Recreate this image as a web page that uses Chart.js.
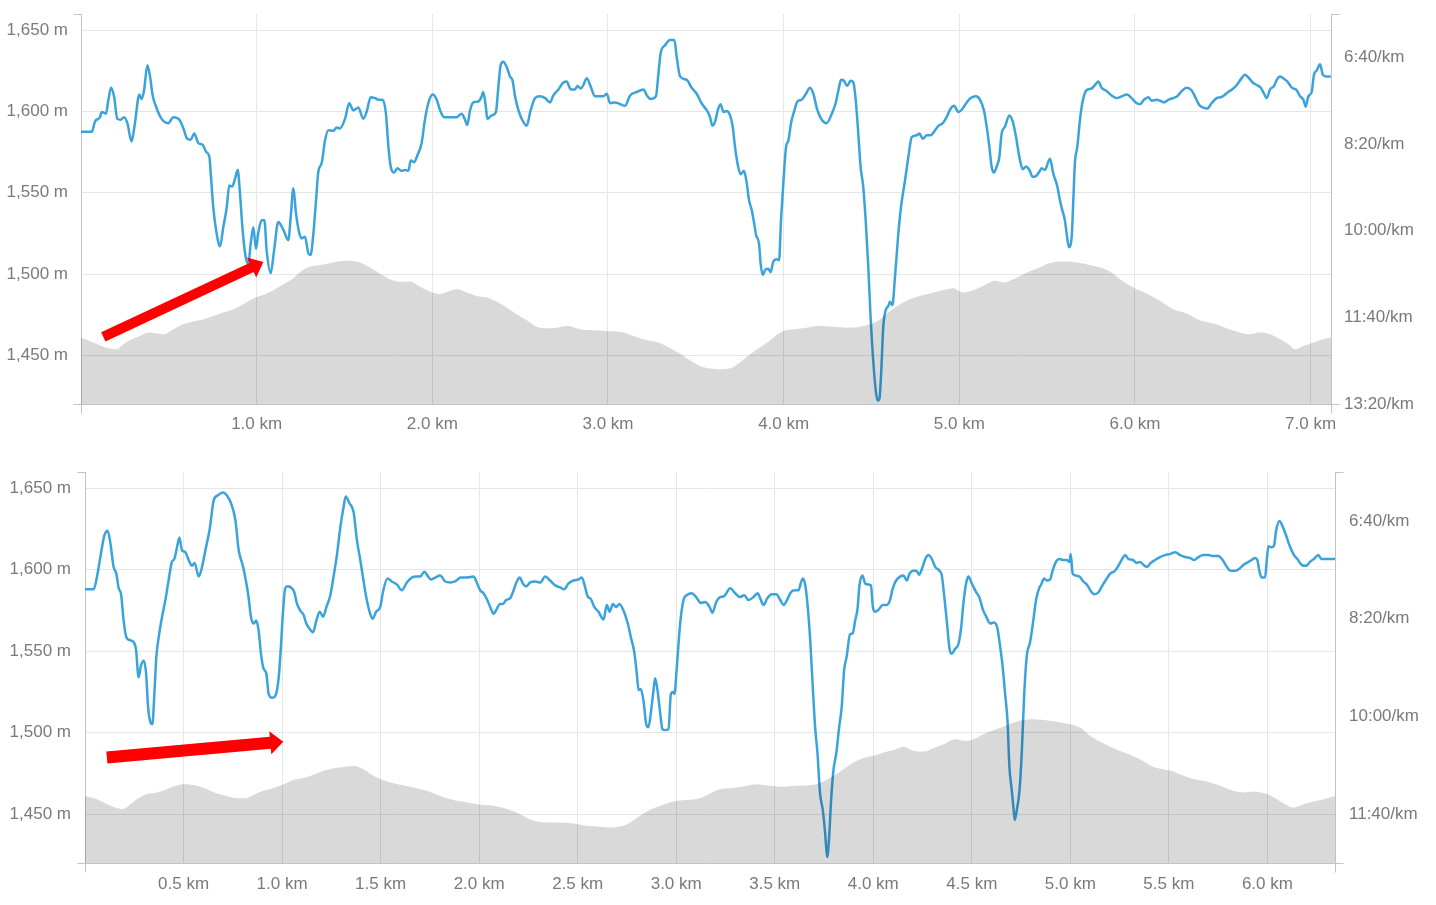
<!DOCTYPE html>
<html><head><meta charset="utf-8">
<script src="https://cdn.jsdelivr.net/npm/chart.js@4/dist/chart.umd.min.js"></script>
<style>
html,body{margin:0;padding:0;background:#fff;overflow:hidden;width:1436px;height:905px}
canvas{position:absolute;left:0}
#c1{top:0}
#c2{top:445px}
</style></head>
<body>
<canvas id="c1" width="1436" height="440"></canvas>
<canvas id="c2" width="1436" height="460"></canvas>
<script>
// ---- tick values ----
const elevTicks = [1450, 1500, 1550, 1600, 1650];
const paceTicksTop = [400, 500, 600, 700, 800];
const paceTicksBottom = [400, 500, 600, 700];
const kmTicksTop = [1, 2, 3, 4, 5, 6, 7];
const kmTicksBottom = [0.5, 1, 1.5, 2, 2.5, 3, 3.5, 4, 4.5, 5, 5.5, 6];

// ---- top chart: pace (sec/km) by distance (km) ----
const topPace = [[0,486],[0.061,486],[0.08,474],[0.108,469],[0.118,463],[0.142,465],[0.156,449],[0.171,435],[0.188,445],[0.207,471],[0.226,472],[0.245,469],[0.264,476],[0.288,497],[0.307,476],[0.332,443],[0.345,448],[0.359,438],[0.378,409],[0.393,422],[0.408,444],[0.431,459],[0.459,471],[0.497,476],[0.526,469],[0.56,472],[0.583,482],[0.605,494],[0.624,495],[0.645,488],[0.668,499],[0.693,501],[0.712,509],[0.731,515],[0.74,538],[0.753,573],[0.772,603],[0.791,618],[0.81,596],[0.829,574],[0.844,548],[0.861,549],[0.877,540],[0.892,530],[0.905,557],[0.92,599],[0.937,630],[0.953,638],[0.966,615],[0.981,596],[0.996,621],[1.009,603],[1.028,588],[1.044,588],[1.057,623],[1.08,649],[1.099,623],[1.123,590],[1.152,599],[1.18,611],[1.194,584],[1.209,551],[1.224,580],[1.243,603],[1.256,609],[1.275,607],[1.294,626],[1.307,628],[1.323,603],[1.338,565],[1.351,532],[1.37,522],[1.389,496],[1.408,484],[1.436,485],[1.455,481],[1.474,482],[1.503,471],[1.527,453],[1.55,461],[1.579,458],[1.607,471],[1.626,463],[1.649,446],[1.674,447],[1.693,449],[1.717,449],[1.736,465],[1.75,503],[1.763,526],[1.782,533],[1.801,528],[1.826,531],[1.845,530],[1.864,531],[1.877,519],[1.896,521],[1.915,513],[1.939,499],[1.958,472],[1.977,453],[2.002,443],[2.025,449],[2.044,461],[2.067,469],[2.101,469],[2.139,469],[2.167,465],[2.186,472],[2.199,478],[2.215,461],[2.234,452],[2.262,451],[2.281,445],[2.29,440],[2.304,456],[2.313,471],[2.338,467],[2.362,463],[2.376,434],[2.389,409],[2.404,405],[2.423,411],[2.442,422],[2.457,427],[2.471,445],[2.49,461],[2.509,471],[2.537,479],[2.56,461],[2.585,447],[2.613,445],[2.642,447],[2.67,452],[2.689,444],[2.718,437],[2.746,429],[2.765,428],[2.788,437],[2.812,437],[2.826,433],[2.845,436],[2.86,432],[2.879,424],[2.902,434],[2.926,445],[2.951,445],[2.974,445],[2.993,442],[3.012,453],[3.04,452],[3.069,454],[3.097,456],[3.126,444],[3.164,440],[3.202,437],[3.222,444],[3.243,448],[3.273,445],[3.287,419],[3.3,395],[3.325,386],[3.353,380],[3.378,380],[3.391,399],[3.41,422],[3.448,426],[3.476,435],[3.505,442],[3.533,453],[3.562,461],[3.581,469],[3.594,479],[3.61,474],[3.625,461],[3.641,454],[3.657,463],[3.676,462],[3.695,467],[3.71,480],[3.723,503],[3.737,522],[3.755,535],[3.774,531],[3.789,544],[3.803,565],[3.818,576],[3.831,590],[3.843,605],[3.86,615],[3.869,638],[3.881,651],[3.896,645],[3.913,644],[3.926,648],[3.941,636],[3.96,633],[3.974,634],[3.985,588],[3.998,546],[4.014,503],[4.027,496],[4.042,476],[4.059,463],[4.078,451],[4.102,449],[4.127,442],[4.15,435],[4.169,442],[4.192,461],[4.217,472],[4.245,476],[4.274,465],[4.296,453],[4.312,438],[4.327,426],[4.343,427],[4.362,433],[4.381,427],[4.397,429],[4.412,453],[4.425,488],[4.438,526],[4.453,549],[4.467,588],[4.482,642],[4.495,700],[4.51,750],[4.524,784],[4.535,796],[4.545,794],[4.556,761],[4.567,711],[4.581,692],[4.596,687],[4.605,682],[4.619,686],[4.634,653],[4.653,603],[4.668,573],[4.691,542],[4.71,515],[4.729,492],[4.757,490],[4.773,488],[4.792,494],[4.815,490],[4.837,490],[4.856,486],[4.881,479],[4.906,476],[4.928,469],[4.951,459],[4.97,456],[4.995,463],[5.019,459],[5.042,452],[5.065,447],[5.095,445],[5.118,449],[5.14,461],[5.156,480],[5.171,503],[5.184,526],[5.197,533],[5.213,526],[5.228,515],[5.241,488],[5.26,480],[5.285,467],[5.304,474],[5.323,492],[5.342,515],[5.361,529],[5.38,526],[5.399,530],[5.418,538],[5.437,537],[5.456,532],[5.468,528],[5.487,530],[5.516,517],[5.535,534],[5.558,549],[5.573,565],[5.586,576],[5.601,588],[5.611,603],[5.624,619],[5.639,609],[5.649,565],[5.658,522],[5.672,503],[5.687,472],[5.702,451],[5.724,438],[5.753,436],[5.772,432],[5.791,428],[5.81,435],[5.839,439],[5.867,444],[5.896,447],[5.924,445],[5.956,443],[5.981,447],[6.01,453],[6.029,454],[6.051,449],[6.076,446],[6.095,450],[6.123,449],[6.142,450],[6.165,452],[6.19,449],[6.218,447],[6.241,445],[6.266,439],[6.294,435],[6.322,438],[6.341,445],[6.366,455],[6.389,458],[6.412,459],[6.436,453],[6.465,447],[6.488,446],[6.507,444],[6.531,440],[6.56,436],[6.583,431],[6.607,424],[6.626,420],[6.645,423],[6.67,429],[6.693,432],[6.716,435],[6.735,442],[6.75,447],[6.769,437],[6.792,433],[6.807,426],[6.826,422],[6.849,425],[6.868,428],[6.893,435],[6.921,438],[6.94,445],[6.959,449],[6.972,457],[6.987,445],[7.006,440],[7.019,420],[7.035,415],[7.054,408],[7.069,420],[7.088,422],[7.115,422]];

// ---- top chart: elevation (m) by distance (km) ----
const topElev = [[0,1460.9],[0.07,1457.8],[0.118,1455.7],[0.165,1454.1],[0.203,1453.7],[0.241,1456.8],[0.288,1459.9],[0.336,1461.9],[0.383,1464],[0.421,1463.5],[0.469,1462.9],[0.526,1466],[0.583,1469.1],[0.639,1470.7],[0.696,1472.2],[0.753,1474.2],[0.81,1476.3],[0.867,1478.3],[0.924,1481.4],[0.981,1484.9],[1.038,1487.2],[1.095,1490],[1.152,1493.7],[1.209,1497.4],[1.256,1501.9],[1.303,1504.4],[1.361,1505.6],[1.436,1507.1],[1.512,1508.1],[1.531,1508.1],[1.588,1507.1],[1.645,1504],[1.702,1500.3],[1.759,1496.8],[1.816,1495.2],[1.873,1495.4],[1.93,1492.1],[1.987,1489.2],[2.044,1487.6],[2.091,1489.2],[2.139,1490.6],[2.196,1488.6],[2.253,1486.5],[2.31,1485.5],[2.366,1483.1],[2.423,1479.4],[2.48,1475.3],[2.537,1471.6],[2.613,1467],[2.689,1466.6],[2.765,1468.1],[2.841,1466],[2.917,1465.4],[2.993,1465],[3.069,1464.4],[3.145,1461.9],[3.222,1459.2],[3.288,1457.8],[3.345,1454.7],[3.402,1451.6],[3.467,1446.9],[3.524,1443.4],[3.581,1441.8],[3.638,1441.4],[3.714,1442.8],[3.761,1446.5],[3.809,1450.6],[3.866,1454.7],[3.923,1459.2],[3.97,1463.3],[3.998,1465],[4.057,1466],[4.131,1467],[4.207,1468.1],[4.283,1467.5],[4.359,1467],[4.435,1467.5],[4.492,1469.1],[4.549,1472.2],[4.606,1477.3],[4.663,1481.4],[4.719,1484.5],[4.776,1486.5],[4.852,1488.6],[4.928,1490.6],[4.966,1491.3],[5.023,1488.6],[5.08,1490],[5.137,1492.7],[5.203,1495.8],[5.25,1494.8],[5.307,1496.8],[5.364,1499.9],[5.421,1502.4],[5.456,1504],[5.497,1506],[5.554,1507.5],[5.611,1507.7],[5.668,1507.1],[5.725,1506],[5.801,1504],[5.858,1501.5],[5.915,1496.8],[5.991,1491.7],[6.066,1488],[6.142,1483.5],[6.218,1478.3],[6.294,1475.7],[6.37,1471.6],[6.446,1469.5],[6.522,1466.6],[6.598,1464],[6.645,1462.9],[6.712,1464],[6.769,1462.9],[6.826,1459.9],[6.874,1456.8],[6.911,1453.7],[6.959,1455.7],[7.016,1457.8],[7.073,1459.9],[7.116,1460.9]];

// ---- bottom chart: pace (sec/km) by distance (km) ----
const bottomPace = [[0,470],[0.044,470],[0.061,457],[0.078,437],[0.098,415],[0.115,410],[0.129,423],[0.145,447],[0.159,454],[0.171,469],[0.183,475],[0.196,502],[0.21,519],[0.227,522],[0.247,524],[0.259,532],[0.272,560],[0.284,548],[0.298,543],[0.31,556],[0.32,590],[0.332,606],[0.342,608],[0.352,577],[0.362,539],[0.374,519],[0.391,498],[0.408,481],[0.424,461],[0.441,442],[0.453,439],[0.467,427],[0.479,417],[0.492,430],[0.509,432],[0.526,440],[0.543,446],[0.556,443],[0.577,457],[0.594,447],[0.611,430],[0.633,408],[0.653,379],[0.673,374],[0.7,371],[0.72,374],[0.741,382],[0.763,399],[0.78,430],[0.801,446],[0.819,464],[0.83,478],[0.842,498],[0.856,505],[0.869,502],[0.881,512],[0.893,536],[0.906,551],[0.92,556],[0.932,577],[0.949,581],[0.966,579],[0.983,560],[0.994,529],[1.005,492],[1.016,469],[1.028,467],[1.05,469],[1.062,473],[1.076,485],[1.093,492],[1.109,496],[1.123,505],[1.135,509],[1.157,514],[1.174,502],[1.191,493],[1.208,498],[1.225,488],[1.245,476],[1.262,456],[1.279,434],[1.296,406],[1.312,386],[1.323,375],[1.342,382],[1.363,391],[1.38,420],[1.397,440],[1.413,461],[1.43,481],[1.447,495],[1.46,500],[1.477,493],[1.498,488],[1.514,471],[1.535,459],[1.557,462],[1.582,465],[1.608,471],[1.633,463],[1.658,458],[1.684,457],[1.701,457],[1.722,452],[1.738,456],[1.755,460],[1.777,458],[1.802,456],[1.828,462],[1.853,463],[1.878,462],[1.907,458],[1.938,458],[1.972,457],[1.988,463],[2.005,471],[2.022,474],[2.039,480],[2.056,488],[2.073,495],[2.09,490],[2.104,485],[2.121,485],[2.137,481],[2.158,479],[2.175,471],[2.189,463],[2.206,458],[2.222,464],[2.239,467],[2.259,463],[2.285,462],[2.31,463],[2.335,457],[2.36,461],[2.386,466],[2.411,468],[2.431,470],[2.454,464],[2.479,461],[2.504,460],[2.521,458],[2.538,468],[2.55,477],[2.567,480],[2.584,488],[2.606,493],[2.631,501],[2.648,486],[2.662,493],[2.679,485],[2.695,488],[2.712,485],[2.733,492],[2.753,504],[2.77,519],[2.787,534],[2.8,556],[2.809,573],[2.82,572],[2.834,584],[2.848,608],[2.859,611],[2.871,597],[2.885,573],[2.893,561],[2.905,573],[2.919,597],[2.93,613],[2.944,614],[2.961,613],[2.973,577],[2.983,575],[2.991,577],[3.003,550],[3.02,505],[3.037,481],[3.054,476],[3.079,474],[3.101,478],[3.125,484],[3.147,483],[3.169,488],[3.184,494],[3.203,483],[3.223,478],[3.243,477],[3.274,469],[3.299,474],[3.324,478],[3.345,476],[3.367,481],[3.392,478],[3.413,474],[3.426,479],[3.443,486],[3.463,479],[3.485,475],[3.508,475],[3.528,481],[3.545,486],[3.562,481],[3.582,473],[3.604,471],[3.621,471],[3.633,463],[3.643,459],[3.655,466],[3.666,485],[3.68,522],[3.693,570],[3.705,611],[3.717,638],[3.73,679],[3.744,696],[3.756,720],[3.766,744],[3.776,724],[3.786,686],[3.798,655],[3.812,638],[3.827,611],[3.84,590],[3.852,553],[3.865,539],[3.882,516],[3.896,515],[3.908,502],[3.92,490],[3.93,466],[3.945,456],[3.959,464],[3.976,465],[3.988,466],[3.998,488],[4.009,493],[4.026,491],[4.048,486],[4.068,486],[4.085,481],[4.099,469],[4.116,461],[4.136,457],[4.153,456],[4.17,461],[4.184,454],[4.204,451],[4.218,451],[4.233,455],[4.247,449],[4.264,439],[4.28,435],[4.297,439],[4.314,447],[4.336,451],[4.348,456],[4.359,475],[4.373,502],[4.387,531],[4.398,536],[4.415,531],[4.432,526],[4.446,509],[4.457,485],[4.471,464],[4.483,457],[4.5,464],[4.522,473],[4.538,478],[4.555,490],[4.573,498],[4.593,505],[4.613,504],[4.63,510],[4.644,529],[4.657,550],[4.669,577],[4.681,604],[4.691,652],[4.703,676],[4.711,693],[4.718,706],[4.728,696],[4.742,676],[4.754,635],[4.766,577],[4.779,538],[4.796,524],[4.81,505],[4.826,481],[4.843,468],[4.85,466],[4.867,459],[4.88,461],[4.897,460],[4.91,451],[4.927,442],[4.944,439],[4.964,440],[4.981,440],[4.995,442],[5.002,434],[5.012,454],[5.029,456],[5.046,457],[5.066,462],[5.087,466],[5.104,472],[5.121,475],[5.143,473],[5.16,467],[5.182,460],[5.202,454],[5.227,451],[5.249,444],[5.266,438],[5.278,435],[5.295,439],[5.317,440],[5.337,443],[5.354,442],[5.371,445],[5.388,447],[5.408,443],[5.43,440],[5.455,437],[5.481,435],[5.506,434],[5.532,432],[5.557,435],[5.583,437],[5.608,438],[5.628,440],[5.65,437],[5.675,435],[5.701,435],[5.726,436],[5.751,436],[5.773,440],[5.794,447],[5.814,451],[5.836,451],[5.858,449],[5.879,445],[5.904,442],[5.92,440],[5.937,438],[5.949,440],[5.959,451],[5.971,458],[5.988,458],[5.997,440],[6.005,426],[6.022,427],[6.034,425],[6.044,410],[6.061,400],[6.078,406],[6.095,415],[6.112,425],[6.132,434],[6.152,439],[6.174,445],[6.196,446],[6.216,442],[6.236,439],[6.258,435],[6.275,439],[6.301,439],[6.343,439]];

// ---- bottom chart: elevation (m) by distance (km) ----
const bottomElev = [[0,1461.2],[0.061,1459.2],[0.112,1456.1],[0.154,1454.1],[0.193,1453.1],[0.23,1456.1],[0.272,1459.8],[0.315,1462.3],[0.365,1463.3],[0.416,1465.3],[0.458,1467.4],[0.509,1468.4],[0.568,1467.4],[0.619,1465.3],[0.67,1462.7],[0.72,1461.2],[0.771,1459.8],[0.819,1459.8],[0.856,1461.9],[0.906,1464.3],[0.957,1466],[1.008,1468.4],[1.059,1470.9],[1.109,1472.1],[1.16,1474.1],[1.211,1476.6],[1.262,1478.2],[1.312,1479],[1.363,1479.5],[1.413,1477.6],[1.464,1473.5],[1.532,1470],[1.6,1468],[1.667,1466.4],[1.735,1464.3],[1.803,1461.2],[1.87,1458.6],[1.938,1457.2],[2.005,1455.7],[2.073,1455.1],[2.141,1453.1],[2.208,1450],[2.276,1445.9],[2.343,1444.9],[2.411,1444.9],[2.479,1444.3],[2.546,1442.8],[2.614,1442.2],[2.673,1441.8],[2.741,1443.3],[2.791,1446.9],[2.851,1451.6],[2.919,1455.1],[2.986,1457.8],[3.054,1458.6],[3.121,1459.8],[3.172,1462.7],[3.223,1465.3],[3.291,1466],[3.358,1467.4],[3.409,1468.4],[3.477,1467.4],[3.545,1466.8],[3.612,1467.4],[3.697,1468],[3.747,1470],[3.798,1473.5],[3.849,1477.6],[3.899,1481.7],[3.95,1484.4],[4.001,1485.8],[4.052,1487.8],[4.103,1489.3],[4.153,1491.3],[4.204,1488.9],[4.254,1488.4],[4.305,1490.5],[4.356,1492.9],[4.415,1496],[4.466,1495],[4.508,1496],[4.559,1499.1],[4.61,1501.5],[4.66,1503.6],[4.711,1506.2],[4.762,1507.7],[4.813,1508.3],[4.897,1507.3],[4.981,1505.6],[5.049,1503.2],[5.1,1498.1],[5.151,1494.4],[5.218,1490.5],[5.286,1487.2],[5.354,1483.7],[5.421,1479],[5.472,1477.6],[5.523,1476.2],[5.574,1473.5],[5.624,1471.5],[5.692,1470],[5.76,1467.4],[5.828,1464.3],[5.879,1463.3],[5.929,1463.9],[5.997,1462.3],[6.048,1459.2],[6.09,1456.1],[6.132,1454.1],[6.183,1456.1],[6.233,1457.8],[6.284,1459.2],[6.343,1461.2]];

// ---- annotation arrows (start, tip) in data units [km, m] ----
const topArrow = [[0.127, 1461.3], [1.038, 1507.4]];
const bottomArrow = [[0.111, 1484.7], [1.006, 1494.5]];

// ---- drawing ----
const FONT = {family: '"Liberation Sans", Arial, sans-serif', size: 17};
const TEXT = '#7a7a7a';
const GRID = '#e6e6e6';
const AXIS = '#c3c3c3';
const BLUE = '#3ba3db';
const SHADE = 'rgba(0,0,0,0.15)';

function fmtPace(v) {
  const m = Math.floor(v / 60), s = Math.round(v - m * 60);
  return m + ':' + String(s).padStart(2, '0') + '/km';
}
const toXY = arr => arr.map(p => ({x: p[0], y: p[1]}));

const capsPlugin = {
  id: 'caps',
  afterDraw(chart) {
    const ctx = chart.ctx, a = chart.chartArea;
    ctx.save();
    ctx.strokeStyle = AXIS; ctx.lineWidth = 1;
    ctx.beginPath();
    const t = Math.round(a.top) + 0.5, b = Math.round(a.bottom) + 0.5;
    const l = Math.round(a.left) + 0.5, r = Math.round(a.right) + 0.5;
    ctx.moveTo(l - 8, t); ctx.lineTo(l, t);
    ctx.moveTo(l - 8, b); ctx.lineTo(l, b);
    ctx.moveTo(r, t); ctx.lineTo(r + 8, t);
    ctx.moveTo(r, b); ctx.lineTo(r + 8, b);
    ctx.moveTo(l, b); ctx.lineTo(l, b + 9);
    ctx.moveTo(r, b); ctx.lineTo(r, b + 9);
    ctx.stroke();
    ctx.restore();
  }
};

const arrowPlugin = {
  id: 'arrow',
  afterDatasetsDraw(chart, args, opts) {
    const xs = chart.scales.x, ys = chart.scales.y;
    const pts = opts.points;
    const x0 = xs.getPixelForValue(pts[0][0]), y0 = ys.getPixelForValue(pts[0][1]);
    const x1 = xs.getPixelForValue(pts[1][0]), y1 = ys.getPixelForValue(pts[1][1]);
    const dx = x1 - x0, dy = y1 - y0, len = Math.hypot(dx, dy);
    const ux = dx / len, uy = dy / len, nx = -uy, ny = ux;
    const sw = opts.shaft / 2, hw = opts.headW / 2, hl = opts.headL;
    const bx = x1 - ux * hl, by = y1 - uy * hl;
    const ctx = chart.ctx;
    ctx.save();
    ctx.fillStyle = '#ff0000';
    ctx.beginPath();
    ctx.moveTo(x0 + nx * sw, y0 + ny * sw);
    ctx.lineTo(bx + nx * sw, by + ny * sw);
    ctx.lineTo(bx + nx * hw, by + ny * hw);
    ctx.lineTo(x1, y1);
    ctx.lineTo(bx - nx * hw, by - ny * hw);
    ctx.lineTo(bx - nx * sw, by - ny * sw);
    ctx.lineTo(x0 - nx * sw, y0 - ny * sw);
    ctx.closePath();
    ctx.fill();
    ctx.restore();
  }
};

function makeChart(id, cfg) {
  return new Chart(document.getElementById(id), {
    type: 'line',
    data: {
      datasets: [
        {
          label: 'Elevation', data: toXY(cfg.elev), yAxisID: 'y', order: 0,
          fill: 'start', backgroundColor: SHADE, borderWidth: 0, borderColor: 'rgba(0,0,0,0)',
          pointRadius: 0, cubicInterpolationMode: 'monotone'
        },
        {
          label: 'Pace', data: toXY(cfg.pace), yAxisID: 'y2', order: 1,
          fill: false, borderColor: BLUE, borderWidth: 2.5,
          pointRadius: 0, cubicInterpolationMode: 'monotone', borderJoinStyle: 'round'
        }
      ]
    },
    options: {
      responsive: false, animation: false, devicePixelRatio: 1,
      layout: {padding: {top: cfg.padTop, left: 0, right: 0, bottom: 0}},
      plugins: {legend: {display: false}, tooltip: {enabled: false}, arrow: cfg.arrow},
      scales: {
        x: {
          type: 'linear', position: 'bottom', min: 0, max: cfg.xMax,
          afterBuildTicks: s => { s.ticks = cfg.kmTicks.map(v => ({value: v})); },
          afterFit: s => { s.height = cfg.xHeight; s.paddingLeft = 0; s.paddingRight = 0; },
          grid: {color: GRID, drawTicks: false},
          border: {color: AXIS, width: 1},
          ticks: {font: FONT, color: TEXT, padding: cfg.xPad, maxRotation: 0, autoSkip: false,
                  callback: v => Number(v).toFixed(1) + ' km'}
        },
        y: {
          type: 'linear', position: 'left', min: 1420, max: 1660,
          afterBuildTicks: s => { s.ticks = elevTicks.map(v => ({value: v})); },
          afterFit: s => { s.width = cfg.leftW; s.paddingTop = 0; s.paddingBottom = 0; },
          grid: {color: GRID, drawTicks: false},
          border: {color: AXIS, width: 1},
          ticks: {font: FONT, color: TEXT, padding: cfg.yPad,
                  callback: v => Number(v).toLocaleString('en-US') + ' m'}
        },
        y2: {
          type: 'linear', position: 'right', reverse: true, min: 350, max: cfg.paceMax,
          afterBuildTicks: s => { s.ticks = cfg.paceTicks.map(v => ({value: v})); },
          afterFit: s => { s.width = cfg.rightW; s.paddingTop = 0; s.paddingBottom = 0; },
          grid: {drawOnChartArea: false, drawTicks: false},
          border: {color: AXIS, width: 1},
          ticks: {font: FONT, color: TEXT, padding: cfg.yPad, callback: v => fmtPace(v)}
        }
      }
    },
    plugins: [capsPlugin, arrowPlugin]
  });
}

makeChart('c1', {
  pace: topPace, elev: topElev, xMax: 7.116, paceMax: 800,
  kmTicks: kmTicksTop, paceTicks: paceTicksTop,
  padTop: 14, xHeight: 36, leftW: 81, rightW: 105, xPad: 10, yPad: 13,
  arrow: {points: topArrow, shaft: 10, headL: 13, headW: 22}
});
makeChart('c2', {
  pace: bottomPace, elev: bottomElev, xMax: 6.343, paceMax: 750,
  kmTicks: kmTicksBottom, paceTicks: paceTicksBottom,
  padTop: 27, xHeight: 42, leftW: 85, rightW: 101, xPad: 11, yPad: 14,
  arrow: {points: bottomArrow, shaft: 12, headL: 13, headW: 23}
});
</script>
</body></html>
